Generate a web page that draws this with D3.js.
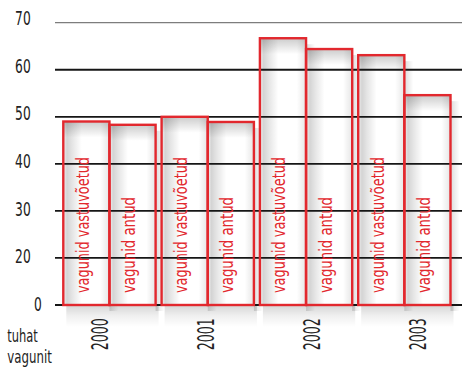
<!DOCTYPE html>
<html>
<head>
<meta charset="utf-8">
<script src="https://cdn.jsdelivr.net/npm/d3@7"></script>
<style>
  html, body { margin: 0; padding: 0; background: #fff; }
  svg { display: block; }
  text { font-family: "Liberation Sans Narrow", "DejaVu Sans Condensed", "Liberation Sans", sans-serif; }
</style>
</head>
<body>
<svg id="chart" width="462" height="367"></svg>
<script>
// Wagons per year (thousands)
const years = ["2000", "2001", "2002", "2003"];
const received = [49.0, 50.0, 66.7, 63.1];
const handed = [48.3, 48.9, 64.4, 54.6];
const seriesNames = ["vagunid vastuvõetud", "vagunid antud"];

// Axis ticks and their printed labels (lowest gridline is printed as "0")
const tickValues = [70, 60, 50, 40, 30, 20, 10];
const tickLabels = ["70", "60", "50", "40", "30", "20", "0"];
const unitLines = ["tuhat", "vagunit"];

const RED = "#e2282e";
const width = 462, height = 367;
const svg = d3.select("#chart");

const y = d3.scaleLinear().domain([10, 70]).range([305, 22.7]);
const yLabel = d3.scaleLinear().domain([10, 70]).range([311, 25]);
const x = d3.scaleBand().domain(years).range([63.3, 450.5]).paddingInner(0.061);
const xInner = d3.scaleBand().domain(d3.range(seriesNames.length)).range([0, x.bandwidth()]);
const xYearLabel = d3.scalePoint().domain(years).range([107.5, 426]);

// Gradients used to shade the bars
const defs = svg.append("defs");
function gradient(id, x2, y2, stops) {
  const g = defs.append("linearGradient").attr("id", id)
    .attr("x1", 0).attr("y1", 0).attr("x2", x2).attr("y2", y2);
  stops.forEach(([o, c, a]) => g.append("stop").attr("offset", o).attr("stop-color", c).attr("stop-opacity", a));
}
gradient("inH", 1, 0, [[0, "#000", 0.05], [0.08, "#000", 0.17], [0.2, "#000", 0.1], [0.4, "#000", 0.0], [0.8, "#000", 0.0], [1, "#000", 0.1]]);
gradient("inTop", 0, 1, [[0, "#000", 0.2], [1, "#000", 0]]);
gradient("outDown", 0, 1, [[0, "#000", 0.16], [0.5, "#000", 0.06], [1, "#000", 0]]);
gradient("outRight", 1, 0, [[0, "#000", 0.14], [1, "#000", 0]]);

// Flatten the series into bar records
const bars = [];
years.forEach((yr, i) => {
  [received[i], handed[i]].forEach((v, s) => bars.push({ year: yr, series: s, value: v }));
});

const barX = d => x(d.year) + xInner(d.series);
const bw = xInner.bandwidth();

// Soft shadow outside the bars (right side and beneath the baseline)
const outer = svg.append("g");
bars.forEach(d => {
  outer.append("rect")
    .attr("x", barX(d) + bw).attr("y", y(d.value) + 6)
    .attr("width", 9).attr("height", y(10) - y(d.value))
    .attr("fill", "url(#outRight)");
  outer.append("rect")
    .attr("x", barX(d) + 3).attr("y", y(10))
    .attr("width", bw).attr("height", 22)
    .attr("fill", "url(#outDown)");
});

// Bar fills with inner shading
const fills = svg.append("g");
bars.forEach(d => {
  const h = y(10) - y(d.value);
  fills.append("rect")
    .attr("x", barX(d)).attr("y", y(d.value))
    .attr("width", bw).attr("height", h)
    .attr("fill", "#fff");
  fills.append("rect")
    .attr("x", barX(d)).attr("y", y(d.value))
    .attr("width", bw).attr("height", h)
    .attr("fill", "url(#inH)");
  fills.append("rect")
    .attr("x", barX(d)).attr("y", y(d.value))
    .attr("width", bw).attr("height", 16)
    .attr("fill", "url(#inTop)");
});

// Horizontal gridlines (drawn across the bars)
svg.append("g").selectAll("line").data(tickValues).join("line")
  .attr("x1", 55).attr("x2", width)
  .attr("y1", d => y(d)).attr("y2", d => y(d))
  .attr("stroke", d => d === 70 ? "#7d7d7d" : "#161616")
  .attr("stroke-width", d => d === 70 ? 1.3 : 1.8);

// Bar outlines
svg.append("g").selectAll("rect").data(bars).join("rect")
  .attr("x", barX)
  .attr("y", d => y(d.value))
  .attr("width", bw)
  .attr("height", d => y(10) - y(d.value))
  .attr("fill", "none")
  .attr("stroke", RED)
  .attr("stroke-width", 2.4);

// Series names written vertically inside each bar
const nameLen = [136, 96];
svg.append("g").selectAll("text").data(bars).join("text")
  .attr("transform", d => `translate(${barX(d) + bw / 2 + 2.5},${y(10) - 12}) rotate(-90)`)
  .attr("text-anchor", "start")
  .attr("font-size", 17.5)
  .attr("fill", RED)
  .attr("textLength", d => nameLen[d.series])
  .attr("lengthAdjust", "spacingAndGlyphs")
  .text(d => seriesNames[d.series]);

// Value axis labels
svg.append("g").selectAll("text").data(tickValues).join("text")
  .attr("x", (d, i) => tickLabels[i] === "0" ? 41.7 : 30.7)
  .attr("y", d => yLabel(d))
  .attr("text-anchor", "end")
  .attr("font-size", 20)
  .attr("fill", "#222")
  .attr("textLength", (d, i) => tickLabels[i].length * 7.8)
  .attr("lengthAdjust", "spacingAndGlyphs")
  .text((d, i) => tickLabels[i]);

// Year labels
svg.append("g").selectAll("text").data(years).join("text")
  .attr("transform", d => `translate(${xYearLabel(d)},318.3) rotate(-90)`)
  .attr("text-anchor", "end")
  .attr("font-size", 23)
  .attr("fill", "#222")
  .attr("textLength", 32)
  .attr("lengthAdjust", "spacingAndGlyphs")
  .text(d => d);

// Unit caption
const unitLen = [30.5, 44.5];
svg.append("g").selectAll("text").data(unitLines).join("text")
  .attr("x", 7.3)
  .attr("y", (d, i) => 341.7 + i * 21.5)
  .attr("font-size", 18)
  .attr("fill", "#222")
  .attr("textLength", (d, i) => unitLen[i])
  .attr("lengthAdjust", "spacingAndGlyphs")
  .text(d => d);
</script>
</body>
</html>
